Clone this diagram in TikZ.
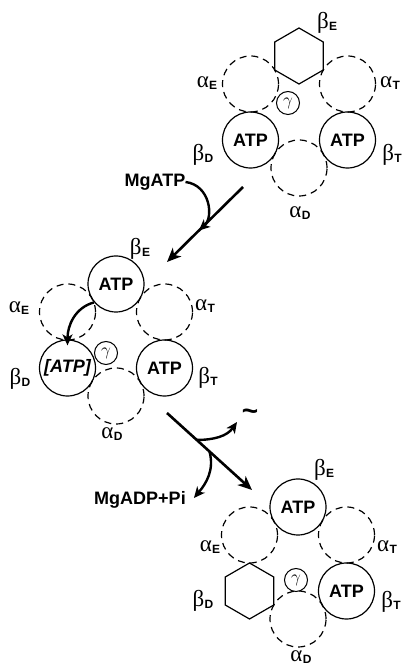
\documentclass[tikz,border=0pt]{standalone}
\usepackage{fontspec}
\setmainfont{Liberation Sans}
\newfontfamily\grk{Liberation Serif}
\usepackage{tikz}
\usetikzlibrary{arrows.meta,positioning,calc,shapes.geometric}
\newcommand{\gsub}[2]{{\grk #1}\kern0.3pt\raisebox{-1.8pt}{\fontsize{12}{12}\selectfont\bfseries #2}}

\begin{document}
\begin{tikzpicture}[x=1pt,y=1pt,
    fullsub/.style={circle,draw,line width=1.2pt,minimum size=56pt,inner sep=0pt,
      font=\fontsize{18}{18}\selectfont\bfseries},
    emptysub/.style={fullsub,dash pattern=on 7pt off 5pt},
    hexsub/.style={regular polygon,regular polygon sides=6,shape border rotate=30,
      draw,line width=1.2pt,minimum size=56pt,inner sep=0pt},
    gam/.style={circle,draw,fill=white,line width=1pt,minimum size=23pt,inner sep=0pt,
      font=\fontsize{17}{17}\selectfont},
    glbl/.style={inner sep=0pt,font=\fontsize{23}{23}\selectfont},
    txt/.style={inner sep=0pt,font=\fontsize{18}{18}\selectfont\bfseries},
    flow/.style={line width=2.6pt,-{Stealth[length=14pt,width=12pt,inset=4pt]}},
    side/.style={line width=2.4pt,-{Stealth[length=11pt,width=10pt,inset=3pt]}}]
  \useasboundingbox (0,0) rectangle (404,667);

  % ring centres: top, middle, bottom
  \coordinate (T) at (299,555);
  \coordinate (M) at (116,327);
  \coordinate (B) at (298,104);

  % alpha subunits (always empty)
  \foreach \rc in {T,M,B}
    \foreach \a/\n in {150/AE,30/AT,270/AD}
      \node[emptysub] (\rc\n) at ($(\rc)+(\a:56)$) {};

  % beta subunits, top ring
  \node[hexsub] (TBE) at ($(T)+(90:56)$) {};
  \node[fullsub] (TBD) at ($(T)+(210:56)$) {ATP};
  \node[fullsub] (TBT) at ($(T)+(330:56)$) {ATP};
  \node[gam] (TG) at ($(T)+(-11,9)$) {$\gamma$};

  % beta subunits, middle ring
  \node[fullsub] (MBE) at ($(M)+(90:56)$) {ATP};
  \node[fullsub] (MBD) at ($(M)+(210:56)$) {\itshape[ATP]};
  \node[fullsub] (MBT) at ($(M)+(330:56)$) {ATP};
  \node[gam] (MG) at ($(M)+(-10,-13)$) {$\gamma$};

  % beta subunits, bottom ring
  \node[fullsub] (BBE) at ($(B)+(90:56)$) {ATP};
  \node[hexsub] (BBD) at ($(B)+(210:56)$) {};
  \node[fullsub] (BBT) at ($(B)+(330:56)$) {ATP};
  \node[gam] (BG) at ($(B)+(-2,-17)$) {$\gamma$};

  % subunit labels
  \foreach \rc/\bex/\bey/\aex/\aey/\atx/\aty/\bdx/\bdy/\btx/\bty/\adx/\ady in
      {T/28/89/-92/29/91/29/-96/-43/93/-43/1/-101,
       M/24/91/-97/32/89/34/-96/-39/92/-38/-4/-94,
       B/26/93/-88/16/89/16/-95/-38/93/-39/3/-94} {
    \node[glbl] (\rc lBE) at ($(\rc)+(\bex,\bey)$) {\gsub{β}{E}};
    \node[glbl] (\rc lAE) at ($(\rc)+(\aex,\aey)$) {\gsub{α}{E}};
    \node[glbl] (\rc lAT) at ($(\rc)+(\atx,\aty)$) {\gsub{α}{T}};
    \node[glbl] (\rc lBD) at ($(\rc)+(\bdx,\bdy)$) {\gsub{β}{D}};
    \node[glbl] (\rc lBT) at ($(\rc)+(\btx,\bty)$) {\gsub{β}{T}};
    \node[glbl] (\rc lAD) at ($(\rc)+(\adx,\ady)$) {\gsub{α}{D}};
  }

  % MgATP binding
  \coordinate (a1s) at (243,480);
  \coordinate (a1e) at (167,405);
  \draw[flow] (a1s) -- (a1e);
  \node[txt] (mgatp) at (155,485) {MgATP};
  \draw[side] (mgatp.east) .. controls (210,482) and (214,450) .. ($(a1s)!0.58!(a1e)$);

  % ATP moves from beta_E to beta_D
  \draw[side] (MBE.220) to[out=195,in=90] ([yshift=-6pt]MBD.north);

  % release of MgADP+Pi and energy
  \coordinate (a2s) at (167,254);
  \coordinate (a2e) at (252,177);
  \draw[flow] (a2s) -- (a2e);
  \node[txt,font=\fontsize{28}{28}\selectfont\bfseries] (tilde) at (250,252) {\textasciitilde};
  \coordinate (a2t) at (237,245);
  \draw[side] ($(a2s)!0.35!(a2e)$) to[out=0,in=235] (a2t);
  \node[txt] (mgadp) at (140,167) {MgADP+Pi};
  \draw[side] ($(a2s)!0.5!(a2e)$) to[out=-75,in=50] ($(mgadp.east)+(8,2)$);
\end{tikzpicture}
\end{document}
